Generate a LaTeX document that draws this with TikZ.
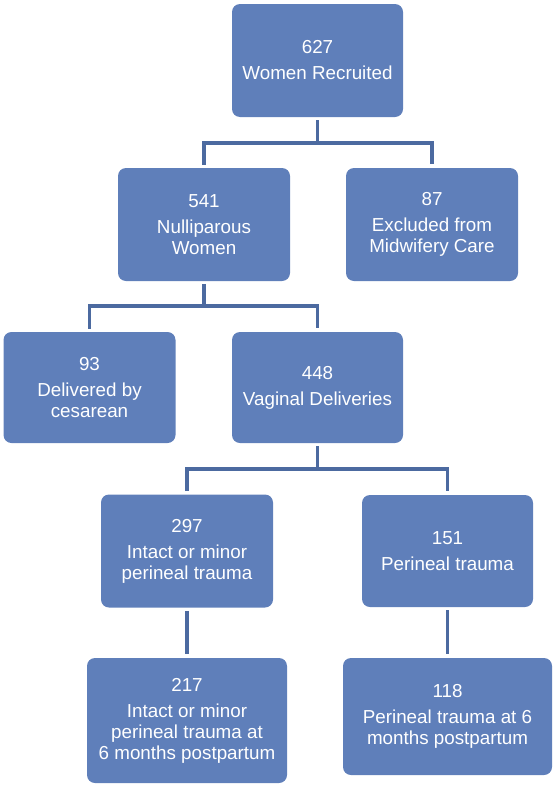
\documentclass[tikz,border=0pt]{standalone}
\usepackage{fontspec}
\setmainfont{Liberation Sans}
\usepackage{tikz}
\definecolor{boxblue}{RGB}{95,127,186}
\definecolor{lineblue}{RGB}{76,106,160}

\begin{document}
\begin{tikzpicture}[x=0.5pt,y=-0.5pt,
	box/.style={fill=boxblue,rounded corners=4pt,text=white,align=center,inner sep=0pt,
		font=\fontsize{9.4}{10.5}\selectfont},
	link/.style={draw=lineblue,line width=1.6pt}]
	\useasboundingbox (0,0) rectangle (556,787);
	\node[box,minimum width=85.5pt,minimum height=56.5pt] (women) at (317.5,60.5) {627\\[2.5pt]Women Recruited};
	\node[box,minimum width=86pt,minimum height=56.5pt] (nullip) at (204,224.5) {541\\[2.5pt]Nulliparous\\Women};
	\node[box,minimum width=86pt,minimum height=56.5pt] (excl) at (432,224.5) {87\\[2.5pt]Excluded from\\Midwifery Care};
	\node[box,minimum width=86pt,minimum height=55.5pt] (cesar) at (89.5,387.5) {93\\[2.5pt]Delivered by\\cesarean};
	\node[box,minimum width=85.5pt,minimum height=55.5pt] (vagin) at (317.5,387.5) {448\\[2.5pt]Vaginal Deliveries};
	\node[box,minimum width=86pt,minimum height=56.5pt] (intact) at (187,551) {297\\[2.5pt]Intact or minor\\perineal trauma};
	\node[box,minimum width=85.5pt,minimum height=56pt] (trauma) at (447.5,551) {151\\[2.5pt]Perineal trauma};
	\node[box,minimum width=100pt,minimum height=62.5pt] (intact6) at (187,720.5) {217\\[2.5pt]Intact or minor\\perineal trauma at\\6 months postpartum};
	\node[box,minimum width=104.5pt,minimum height=58.5pt] (trauma6) at (447.5,716.5) {118\\[2.5pt]Perineal trauma at 6\\months postpartum};
	% branching bars
	\coordinate (bar1) at (317.5,143);
	\coordinate (bar2) at (204,306);
	\coordinate (bar3) at (317.5,469);
	\draw[link,shorten <=1.5pt] (women.south) -- (bar1);
	\draw[link,shorten <=1.5pt,shorten >=2pt] (nullip.north) |- (bar1) -| (excl.north);
	\draw[link,shorten <=1.5pt] (nullip.south) -- (bar2);
	\draw[link,shorten <=1.5pt,shorten >=2pt] (cesar.north) |- (bar2) -| (vagin.north);
	\draw[link,shorten <=1.5pt] (vagin.south) -- (bar3);
	\draw[link,shorten <=1.5pt,shorten >=2pt] (intact.north) |- (bar3) -| (trauma.north);
	\foreach \a/\b in {intact/intact6,trauma/trauma6}
		\draw[link,shorten <=1.5pt,shorten >=2pt] (\a.south) -- (\a.south |- \b.north);
\end{tikzpicture}
\end{document}
